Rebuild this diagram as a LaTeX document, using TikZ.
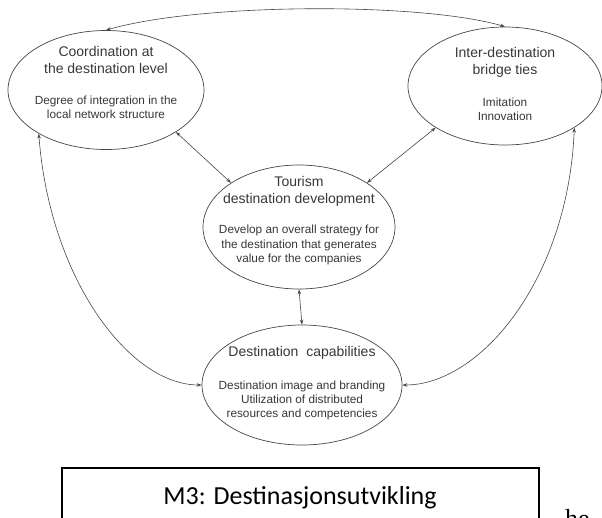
\documentclass[tikz,border=0pt]{standalone}
\usepackage{fontspec}
\usetikzlibrary{shapes.geometric,arrows.meta}
\newfontfamily\arialf{Liberation Sans}
\newfontfamily\calib{Carlito}
\newfontfamily\timesf{Liberation Serif}
\definecolor{ink}{RGB}{55,55,55}
\definecolor{edge}{RGB}{70,70,70}
\tikzset{
  bubble/.style={draw=edge, line width=0.7pt, ellipse, inner sep=0pt},
  headtxt/.style={inner sep=0pt, align=center, text=ink, font=\arialf\fontsize{14}{16.5}\selectfont},
  bodytxt/.style={inner sep=0pt, align=center, text=ink, font=\arialf\fontsize{11.8}{14.2}\selectfont},
  link/.style={draw=edge, line width=0.6pt, {Stealth[length=5pt,width=3.5pt]}-{Stealth[length=5pt,width=3.5pt]}},
  framebox/.style={draw=black, line width=2pt, inner sep=0pt}
}
\begin{document}
\begin{tikzpicture}[x=1pt,y=-1pt]
\useasboundingbox (0,0) rectangle (602,517);
\clip (0,0) rectangle (602,517);

% ellipses
\node[bubble, minimum width=196pt, minimum height=119pt] (L) at (106,90) {};
\node[bubble, minimum width=194pt, minimum height=118pt] (R) at (505,86) {};
\node[bubble, minimum width=192pt, minimum height=124pt] (M) at (299,227) {};
\node[bubble, minimum width=200pt, minimum height=120pt] (B) at (302,385) {};

% texts
\node[headtxt] (Lh) at (106,60) {Coordination at\\the destination level};
\node[bodytxt] (Lb) at (106,107.5) {Degree of integration in the\\local network structure};
\node[headtxt] (Rh) at (505,62.5) {Inter-destination\\bridge ties};
\node[bodytxt] (Rb) at (505,109.5) {Imitation\\Innovation};
\node[headtxt] (Mh) at (299,191.5) {Tourism\\destination development};
\node[bodytxt] (Mb) at (299,245) {Develop an overall strategy for\\the destination that generates\\value for the companies};
\node[headtxt] (Bh) at (302,353) {Destination\ \ capabilities};
\node[bodytxt] (Bb) at (302,400.5) {Destination image and branding\\Utilization of distributed\\resources and competencies};

% connectors
\draw[link] (L.north) .. controls (200,3) and (420,2) .. (R.north);
\draw[link] (L.-31) -- (M.147);
\draw[link] (M.33) -- (R.-149);
\draw[link] (M.south) -- (B.north);
\draw[link] (L.213) .. controls (50,280) and (130,385) .. (B.west);
\draw[link] (R.-31) .. controls (568,280) and (480,385) .. (B.east);

% bottom frame
\node[framebox, minimum width=477pt, minimum height=70pt, anchor=north west] (F) at (61,467) {};
\node[inner sep=0pt, font=\calib\fontsize{26}{30}\selectfont] (Ft) at (300,498) {M3: Destinasjonsutvikling};
\node[inner sep=0pt, anchor=base west, font=\timesf\fontsize{26}{30}\selectfont] (he) at (565,527) {he};
\end{tikzpicture}
\end{document}
